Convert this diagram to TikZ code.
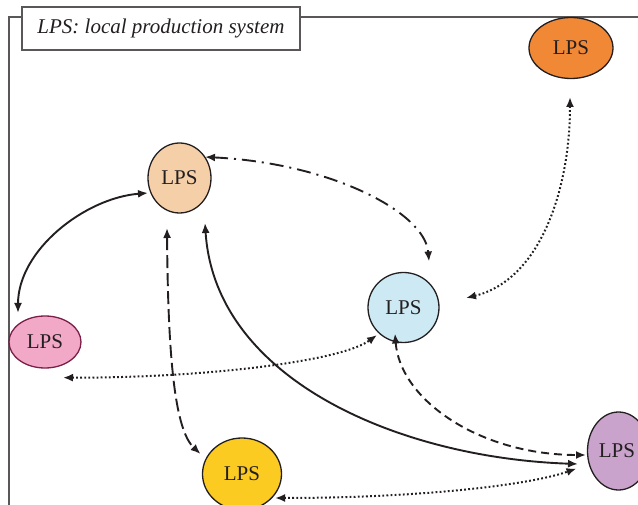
\documentclass[tikz,border=0pt]{standalone}
\usepackage{fontspec}
\setmainfont{Liberation Serif}
\usetikzlibrary{arrows.meta,shapes.geometric,calc}
\definecolor{ink}{HTML}{231F20}
\definecolor{cOrange}{HTML}{F08836}
\definecolor{cPeach}{HTML}{F5CFA8}
\definecolor{cBlue}{HTML}{CDEAF4}
\definecolor{cPink}{HTML}{F2A9C8}
\definecolor{cPinkB}{HTML}{7B1F4A}
\definecolor{cYellow}{HTML}{FCCB22}
\definecolor{cPurple}{HTML}{C9A3CC}
\begin{document}
\begin{tikzpicture}[x=1pt,y=-1pt,
  lps/.style={ellipse,draw=ink,line width=1.3pt,inner sep=0pt,text=ink,
    font=\fontsize{21}{24}\selectfont},
  conn/.style={draw=ink,line width=1.9pt,{Latex[length=10pt,width=8pt]}-{Latex[length=10pt,width=8pt]}},
  dotline/.style={conn,line width=2pt,dash pattern=on 1.8pt off 2.3pt},
  dashdotline/.style={conn,dash pattern=on 14pt off 6pt on 2pt off 6pt},
  longdash/.style={conn,dash pattern=on 13pt off 5pt},
  shortdash/.style={conn,dash pattern=on 8pt off 5pt},
  framebox/.style={draw=ink!75,line width=1.3pt}
]
\useasboundingbox (0,0) rectangle (638,505);
% frame
\draw[framebox] (9,505) -- (9,17) -- (638,17);
\node[framebox,fill=white,minimum width=278pt,minimum height=43pt,inner sep=0pt,
  font=\fontsize{21}{24}\selectfont\itshape,text=ink] (title) at (161,28.5) {LPS: local production system};
% nodes
\node[lps,fill=cOrange,minimum width=84pt,minimum height=61pt] (orange) at (571,48) {LPS};
\node[lps,fill=cPeach,minimum width=63pt,minimum height=70pt] (peach) at (179.5,178) {LPS};
\node[lps,fill=cBlue,minimum width=71pt,minimum height=70pt] (blue) at (403.5,307.5) {LPS};
\node[lps,fill=cPink,draw=cPinkB,minimum width=72pt,minimum height=52pt] (pink) at (45,342) {LPS};
\node[lps,fill=cYellow,minimum width=79pt,minimum height=72pt] (yellow) at (242,474) {LPS};
\node[lps,fill=cPurple,minimum width=62pt,minimum height=78pt] (purple) at (618.5,451) {\hspace*{-3pt}LPS};
% connectors
\draw[conn] ($(peach)+(-31.5,15)$) .. controls (85,198) and (18,250) .. ($(pink)+(-27,-29)$);
\draw[dashdotline] ($(peach)+(25.5,-21)$) .. controls (330,163) and (425,212) .. ($(blue)+(25.5,-46)$);
\draw[dotline] ($(orange)+(-1,49)$) .. controls (570,190) and (540,280) .. ($(blue)+(62.5,-9.5)$);
\draw[longdash] ($(peach)+(-12.5,50)$) .. controls (168,360) and (175,430) .. ($(yellow)+(-41.5,-20)$);
\draw[conn] ($(peach)+(25.5,45)$) .. controls (215,380) and (400,458) .. ($(purple)+(-40.5,13)$);
\draw[dotline] ($(pink.south)+(18,9)$) .. controls (200,378) and (340,362) .. ($(blue)+(-26.5,27.5)$);
\draw[shortdash] ($(blue)+(-8.5,26)$) .. controls (400,400) and (480,455) .. ($(purple)+(-32.5,4)$);
\draw[dotline] ($(yellow)+(33,24)$) .. controls (420,498) and (530,485) .. ($(purple)+(-42,17.5)$);
\end{tikzpicture}
\end{document}
